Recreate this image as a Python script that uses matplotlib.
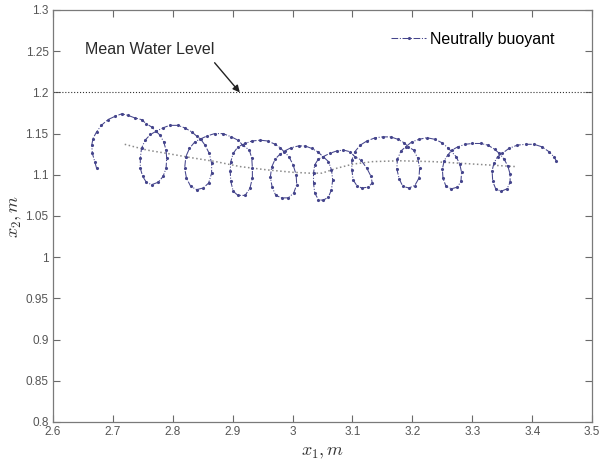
import matplotlib
matplotlib.use('Agg')
import matplotlib.pyplot as plt

plt.rcParams['font.family'] = ['Liberation Sans', 'DejaVu Sans']
plt.rcParams['mathtext.fontset'] = 'cm'

# particle path (neutrally buoyant)
path_x = [2.673, 2.670, 2.666, 2.665, 2.667, 2.673, 2.681, 2.692, 2.704, 2.715,
          2.726, 2.737, 2.748, 2.756, 2.765, 2.772,
          2.779, 2.785, 2.789, 2.790, 2.789, 2.784, 2.776, 2.765, 2.756, 2.750,
          2.746, 2.746, 2.748, 2.754, 2.763, 2.773,
          2.784, 2.795, 2.809, 2.820, 2.832, 2.840, 2.847,
          2.854, 2.861, 2.865, 2.865, 2.860, 2.851, 2.840, 2.830, 2.823, 2.820,
          2.822, 2.828, 2.837, 2.845,
          2.857, 2.870, 2.884, 2.898, 2.909, 2.917,
          2.928, 2.932, 2.933, 2.933, 2.929, 2.921, 2.909, 2.901, 2.897, 2.896,
          2.897, 2.901, 2.909, 2.921,
          2.932, 2.946, 2.959, 2.971, 2.979, 2.986,
          2.994, 3.001, 3.006, 3.007, 3.002, 2.993, 2.982, 2.972, 2.966, 2.963,
          2.965, 2.971, 2.979, 2.987,
          2.998, 3.010, 3.021, 3.032, 3.042, 3.051,
          3.060, 3.065, 3.067, 3.065, 3.060, 3.051, 3.043, 3.037, 3.035, 3.035,
          3.037, 3.043, 3.051,
          3.062, 3.074, 3.085, 3.096, 3.104,
          3.114, 3.124, 3.131, 3.133, 3.126, 3.116, 3.108, 3.101, 3.099, 3.099,
          3.104,
          3.113, 3.124, 3.138, 3.151, 3.164, 3.176, 3.186, 3.193,
          3.202, 3.209, 3.212, 3.211, 3.204, 3.194, 3.184, 3.178, 3.174, 3.175,
          3.181, 3.189,
          3.199, 3.211, 3.224, 3.238, 3.249, 3.259,
          3.273, 3.279, 3.282, 3.281, 3.275, 3.265, 3.256, 3.251, 3.250, 3.253,
          3.259, 3.266,
          3.276, 3.288, 3.300, 3.314, 3.326, 3.337, 3.345,
          3.353, 3.359, 3.363, 3.363, 3.358, 3.348, 3.339, 3.334, 3.333, 3.336,
          3.342, 3.350,
          3.361, 3.375, 3.389, 3.403, 3.416, 3.428, 3.436, 3.440]
path_y = [1.108, 1.116, 1.126, 1.136, 1.144, 1.152, 1.160, 1.167, 1.171, 1.174,
          1.172, 1.169, 1.167, 1.162, 1.158, 1.153,
          1.148, 1.140, 1.130, 1.120, 1.108, 1.098, 1.091, 1.088, 1.091, 1.098,
          1.108, 1.120, 1.132, 1.142, 1.149, 1.153,
          1.157, 1.160, 1.160, 1.157, 1.152, 1.147, 1.143,
          1.136, 1.126, 1.114, 1.102, 1.090, 1.084, 1.082, 1.086, 1.096, 1.108,
          1.122, 1.132, 1.140, 1.143,
          1.147, 1.150, 1.150, 1.146, 1.142, 1.136,
          1.130, 1.120, 1.108, 1.096, 1.084, 1.075, 1.075, 1.080, 1.092, 1.104,
          1.116, 1.126, 1.134, 1.138,
          1.141, 1.142, 1.141, 1.137, 1.133, 1.128,
          1.122, 1.112, 1.100, 1.088, 1.078, 1.072, 1.072, 1.075, 1.085, 1.097,
          1.109, 1.119, 1.125, 1.129,
          1.133, 1.135, 1.135, 1.132, 1.128, 1.122,
          1.116, 1.106, 1.094, 1.082, 1.073, 1.069, 1.070, 1.078, 1.090, 1.102,
          1.112, 1.119, 1.122,
          1.126, 1.129, 1.130, 1.128, 1.122,
          1.118, 1.108, 1.098, 1.090, 1.085, 1.084, 1.086, 1.094, 1.106, 1.118,
          1.128,
          1.136, 1.141, 1.145, 1.146, 1.146, 1.143, 1.139, 1.134,
          1.130, 1.120, 1.108, 1.096, 1.087, 1.084, 1.086, 1.095, 1.107, 1.119,
          1.129, 1.134,
          1.140, 1.143, 1.145, 1.143, 1.139, 1.133,
          1.122, 1.113, 1.103, 1.092, 1.085, 1.083, 1.086, 1.096, 1.107, 1.117,
          1.124, 1.130,
          1.134, 1.137, 1.138, 1.138, 1.136, 1.131, 1.126,
          1.119, 1.111, 1.101, 1.091, 1.083, 1.080, 1.083, 1.092, 1.105, 1.114,
          1.122, 1.126,
          1.132, 1.136, 1.137, 1.137, 1.134, 1.128, 1.122, 1.117]

# mean drift path
drift_x = [2.720, 2.757, 2.790, 2.829, 2.872, 2.912, 2.957, 3.001, 3.029,
           3.049, 3.074, 3.101, 3.134, 3.179, 3.234, 3.280, 3.325, 3.371]
drift_y = [1.137, 1.130, 1.126, 1.121, 1.116, 1.110, 1.106, 1.103, 1.102,
           1.102, 1.108, 1.113, 1.116, 1.117, 1.116, 1.114, 1.112, 1.110]

mwl = 1.2
xticks = [2.6, 2.7, 2.8, 2.9, 3.0, 3.1, 3.2, 3.3, 3.4, 3.5]
yticks = [0.8, 0.85, 0.9, 0.95, 1.0, 1.05, 1.1, 1.15, 1.2, 1.25, 1.3]

fig = plt.figure(figsize=(6, 4.65), dpi=100)
ax = fig.add_axes([0.088, 0.0925, 0.899, 0.886])

ax.axhline(mwl, color='#333333', linestyle=':', linewidth=0.8)
ax.plot(drift_x, drift_y, color='#8a8a8a', linestyle=':', linewidth=1.1)
ax.plot(path_x, path_y, color='#45458c', linestyle='-.', linewidth=0.75,
        marker='.', markersize=2.5, label='Neutrally buoyant')

ax.text(2.653, 1.2525, 'Mean Water Level', fontsize=11.5, color='#2a2a2a',
        va='center', ha='left')
ax.annotate('', xy=(2.912, 1.2), xytext=(2.870, 1.236),
            arrowprops=dict(arrowstyle='-|>', color='#222222', lw=1.0,
                            mutation_scale=10, shrinkA=0, shrinkB=0))

ax.legend(loc='center right', bbox_to_anchor=(0.931, 0.9296), frameon=False,
          fontsize=11.5, handlelength=2.2, handletextpad=0.25, borderpad=0,
          borderaxespad=0)

ax.set_xlim(2.6, 3.5)
ax.set_ylim(0.8, 1.3)
ax.set_xticks(xticks)
ax.set_xticklabels(['2.6', '2.7', '2.8', '2.9', '3', '3.1', '3.2', '3.3', '3.4', '3.5'])
ax.set_yticks(yticks)
ax.set_yticklabels(['0.8', '0.85', '0.9', '0.95', '1', '1.05', '1.1', '1.15', '1.2', '1.25', '1.3'])
ax.tick_params(direction='in', top=True, right=True, length=5, width=0.8,
               labelsize=8.5, colors='#6a6a6a', labelcolor='#555555', pad=3)
for s in ax.spines.values():
    s.set_color('#7a7a7a')
    s.set_linewidth(0.9)

ax.set_xlabel('$x_1, m$', fontsize=13, color='#333333', labelpad=4)
ax.set_ylabel('$x_2, m$', fontsize=13, color='#333333', labelpad=1)

fig.savefig('out.png', dpi=100)
